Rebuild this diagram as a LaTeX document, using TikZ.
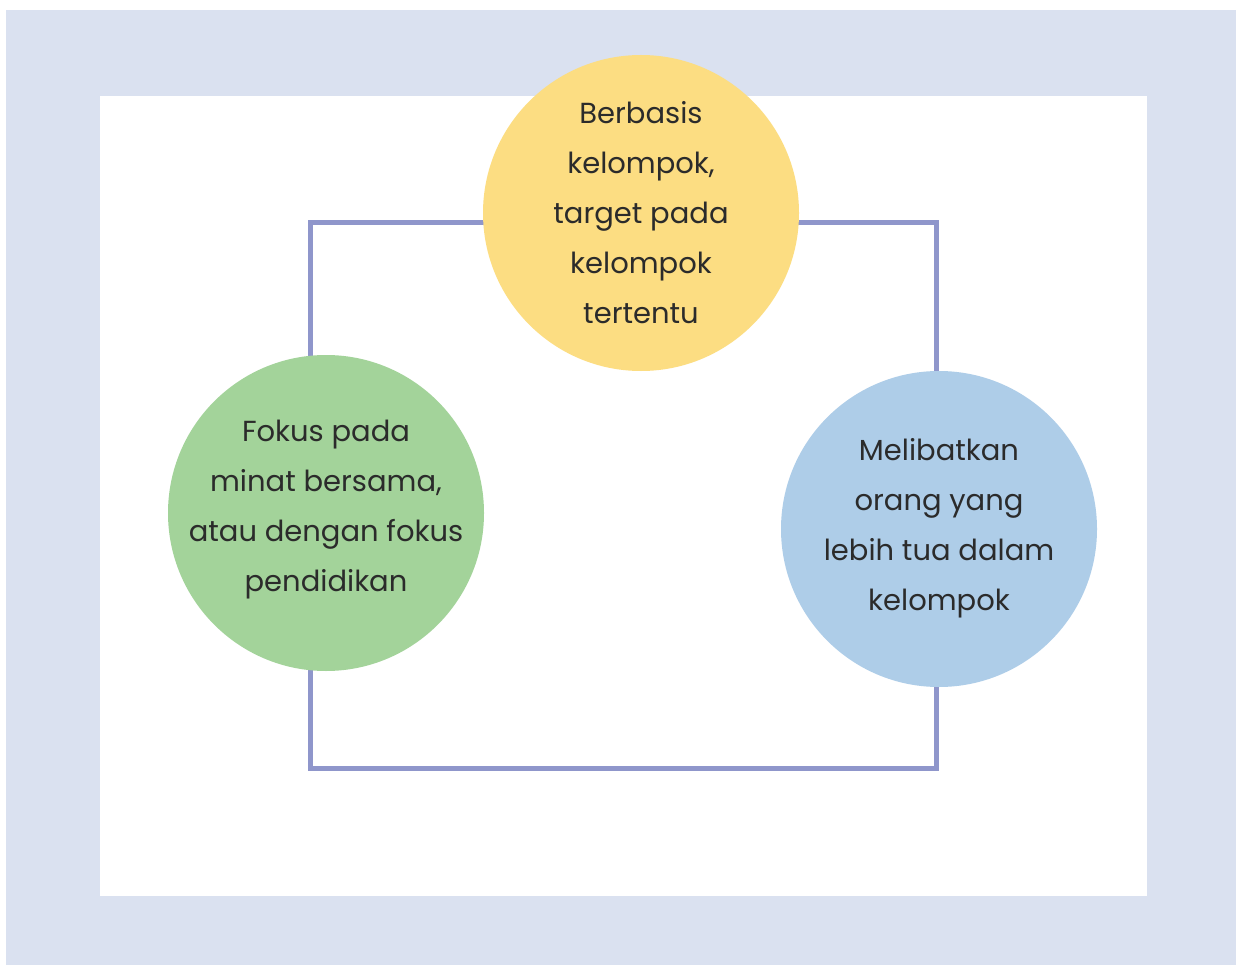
\documentclass[tikz,border=0pt]{standalone}
\usepackage{fontspec}
\setmainfont{Poppins}
\usetikzlibrary{backgrounds}
\definecolor{bgblue}{HTML}{DAE1F0}
\definecolor{linec}{HTML}{8F96CB}
\definecolor{yel}{HTML}{FCDD82}
\definecolor{grn}{HTML}{A3D39A}
\definecolor{blu}{HTML}{AECDE8}
\definecolor{txt}{HTML}{2B2B2B}
\begin{document}
\begin{tikzpicture}[x=1pt,y=-1pt,
  bubble/.style={circle,minimum size=316pt,inner sep=0pt},
  bubbletext/.style={align=center,text=txt,inner sep=0pt,
    font=\fontsize{29}{50}\selectfont},
  conn/.style={draw=linec,line width=5pt,line join=miter}]
\useasboundingbox (0,0) rectangle (1236,965);
\coordinate (c1) at (310,223);
\coordinate (c2) at (310,768);
\coordinate (c3) at (936,768);
\coordinate (c4) at (936,223);
\node[bubble,fill=yel,label={[bubbletext]center:{Berbasis\\kelompok,\\target pada\\kelompok\\tertentu}}] (Y) at (641,213) {};
\node[bubble,fill=grn,label={[bubbletext,yshift=3pt]center:{Fokus pada\\minat bersama,\\atau dengan fokus\\pendidikan}}] (G) at (326,513) {};
\node[bubble,fill=blu,label={[bubbletext,yshift=1pt]center:{Melibatkan\\orang yang\\lebih tua dalam\\kelompok}}] (B) at (939,529) {};
\begin{scope}[on background layer]
\fill[white] (0,0) rectangle (1236,965);
\fill[bgblue] (6,10) rectangle (1236,965);
\fill[white] (100,96) rectangle (1147,896);
\draw[conn] (Y.center |- c1) -- (c1) -- (c2) -- (c3) -- (c4) -- cycle;
\end{scope}
\end{tikzpicture}
\end{document}
